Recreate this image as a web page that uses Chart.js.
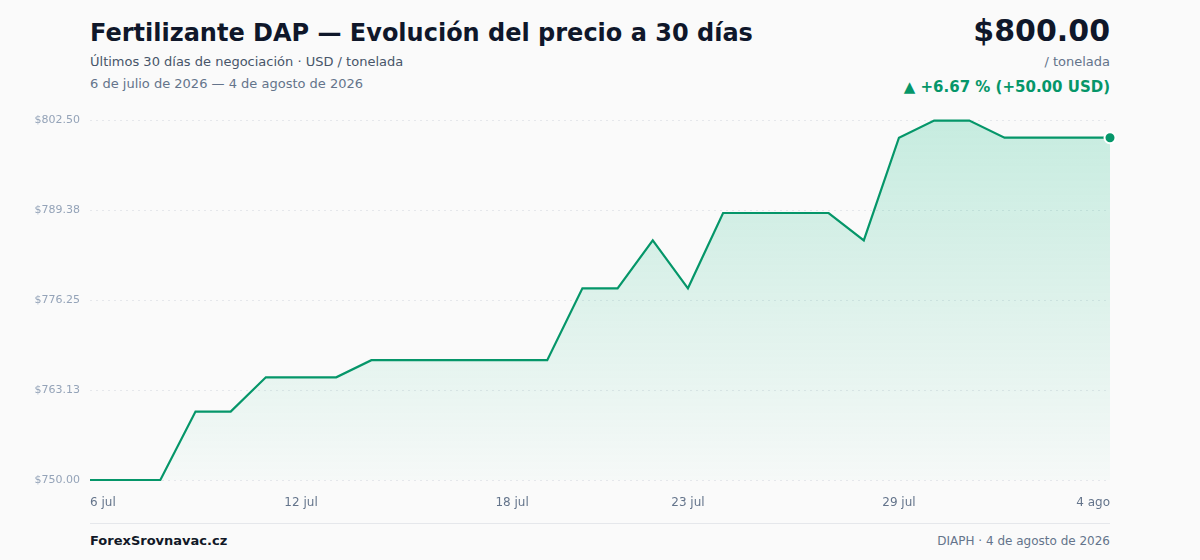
<!DOCTYPE html>
<html lang="es">
<head>
<meta charset="utf-8">
<title>Fertilizante DAP</title>
<script src="https://cdn.jsdelivr.net/npm/chart.js@4.4.1/dist/chart.umd.min.js"></script>
<style>
  html, body { margin: 0; padding: 0; }
  body { width: 1200px; height: 560px; background: #fafafa; font-family: "DejaVu Sans", sans-serif; position: relative; overflow: hidden; }
  .title { position: absolute; left: 90px; top: 19px; font-size: 24px; font-weight: bold; color: #0f172a; }
  .sub { position: absolute; left: 90px; top: 54px; font-size: 13px; color: #475569; }
  .range { position: absolute; left: 90px; top: 76px; font-size: 13px; color: #64748b; }
  .price { position: absolute; right: 90px; top: 13px; font-size: 30px; font-weight: bold; color: #0f172a; }
  .unit { position: absolute; right: 90px; top: 54px; font-size: 13px; color: #64748b; }
  .chg { position: absolute; right: 90px; top: 78px; font-size: 15px; font-weight: bold; color: #059669; }
  .chart { position: absolute; left: 0; top: 104px; width: 1130px; height: 416px; }
  .rule { position: absolute; left: 90px; top: 523px; width: 1020px; height: 1px; background: #e5e7eb; }
  .brand { position: absolute; left: 90px; top: 533px; font-size: 13px; font-weight: bold; color: #111827; }
  .src { position: absolute; right: 90px; top: 534px; font-size: 12px; color: #64748b; }
</style>
</head>
<body>
<div class="title">Fertilizante DAP — Evolución del precio a 30 días</div>
<div class="sub">Últimos 30 días de negociación · USD / tonelada</div>
<div class="range">6 de julio de 2026 — 4 de agosto de 2026</div>
<div class="price">$800.00</div>
<div class="unit">/ tonelada</div>
<div class="chg">▲ +6.67 % (+50.00 USD)</div>
<div class="chart"><canvas id="c"></canvas></div>
<div class="rule"></div>
<div class="brand">ForexSrovnavac.cz</div>
<div class="src">DIAPH · 4 de agosto de 2026</div>

<script>
const days = ['6 jul', '7 jul', '8 jul', '9 jul', '10 jul', '11 jul', '12 jul', '13 jul', '14 jul', '15 jul',
  '16 jul', '17 jul', '18 jul', '19 jul', '20 jul', '21 jul', '22 jul', '23 jul', '24 jul', '25 jul',
  '26 jul', '27 jul', '28 jul', '29 jul', '30 jul', '31 jul', '1 ago', '2 ago', '3 ago', '4 ago'];
const prices = [750, 750, 750, 760, 760, 765, 765, 765, 767.5, 767.5,
  767.5, 767.5, 767.5, 767.5, 778, 778, 785, 778, 789, 789,
  789, 789, 785, 800, 802.5, 802.5, 800, 800, 800, 800];
const tickDays = ['6 jul', '12 jul', '18 jul', '23 jul', '29 jul', '4 ago'];
const yMin = 750, yMax = 802.5, yStep = 13.125;

const green = '#059669';
const last = prices.length - 1;

new Chart(document.getElementById('c'), {
  type: 'line',
  data: {
    labels: days,
    datasets: [{
      data: prices,
      borderColor: green,
      borderWidth: 2.2,
      tension: 0,
      fill: 'start',
      backgroundColor: ctx => {
        const area = ctx.chart.chartArea;
        if (!area) return 'rgba(5,150,105,0.15)';
        const g = ctx.chart.ctx.createLinearGradient(0, area.top, 0, area.bottom);
        g.addColorStop(0, 'rgba(16,185,129,0.22)');
        g.addColorStop(1, 'rgba(16,185,129,0.02)');
        return g;
      },
      pointRadius: ctx => ctx.dataIndex === last ? 5.5 : 0,
      pointBackgroundColor: green,
      pointBorderColor: '#ffffff',
      pointBorderWidth: 2,
      clip: false
    }]
  },
  options: {
    responsive: true,
    maintainAspectRatio: false,
    animation: false,
    layout: { padding: { top: 4, right: 20, left: 0, bottom: 0 } },
    plugins: { legend: { display: false }, tooltip: { enabled: false } },
    scales: {
      x: {
        grid: { display: false, drawTicks: false },
        border: { display: false },
        afterFit: s => { s.height = 40; },
        ticks: {
          autoSkip: false,
          maxRotation: 0,
          align: 'inner',
          padding: 16,
          color: '#64748b',
          font: { family: 'DejaVu Sans', size: 12 },
          callback: function (v) {
            const l = this.getLabelForValue(v);
            return tickDays.includes(l) ? l : '';
          }
        }
      },
      y: {
        min: yMin,
        max: yMax,
        afterFit: s => { s.width = 90; },
        afterBuildTicks: s => {
          const t = [];
          for (let v = yMin; v <= yMax + 0.001; v += yStep) t.push({ value: v });
          s.ticks = t;
        },
        grid: { color: '#e5e7eb', drawTicks: false },
        border: { display: false, dash: [2, 4] },
        ticks: {
          padding: 10,
          color: '#94a3b8',
          font: { family: 'DejaVu Sans', size: 11 },
          callback: v => '$' + Number(v).toFixed(2)
        }
      }
    }
  }
});
</script>
</body>
</html>
